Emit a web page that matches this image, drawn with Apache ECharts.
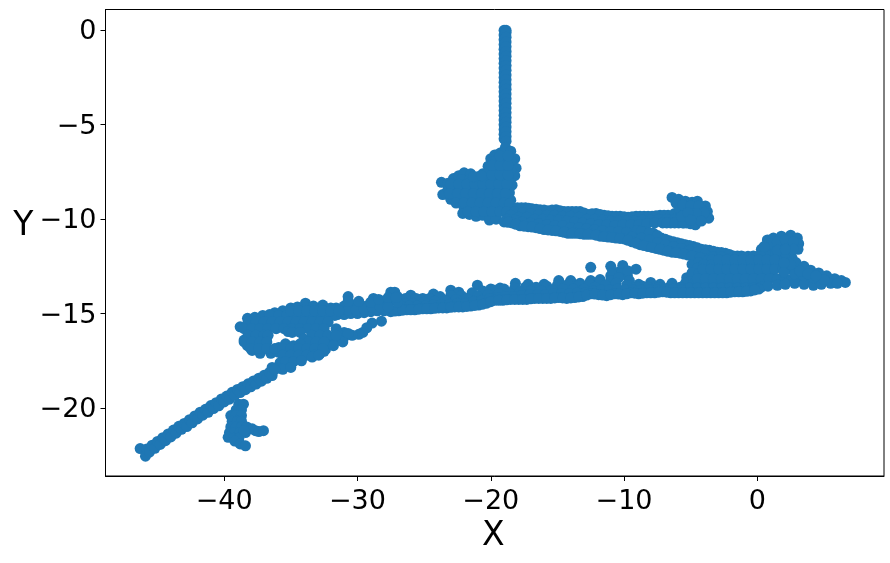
<!DOCTYPE html>
<html>
<head>
<meta charset="utf-8">
<title>XY</title>
<script src="https://cdn.jsdelivr.net/npm/echarts@6/dist/echarts.min.js"></script>
<style>
  html, body { margin: 0; padding: 0; background: #fff; }
  #chart { width: 890px; height: 563px; }
</style>
</head>
<body>
<div id="chart"></div>
<script>
const xTicks = [-40, -30, -20, -10, 0]
const yTicks = [0, -5, -10, -15, -20]

const stemPoints = [
  [-19,0],[-18.85,0],[-19,-.25],[-18.85,-.12],[-19,-.5],[-18.85,-.37],[-19,-.75],[-18.85,-.62],[-19,-1],[-18.85,-.87],
  [-19,-1.25],[-18.85,-1.12],[-19,-1.5],[-18.85,-1.37],[-19,-1.75],[-18.85,-1.62],[-19,-2],[-18.85,-1.87],[-19,-2.25],[-18.85,-2.12],
  [-19,-2.5],[-18.85,-2.37],[-19,-2.75],[-18.85,-2.62],[-19,-3],[-18.85,-2.87],[-19,-3.25],[-18.85,-3.12],[-19,-3.5],[-18.85,-3.37],
  [-19,-3.75],[-18.85,-3.62],[-19,-4],[-18.85,-3.87],[-19,-4.25],[-18.85,-4.12],[-19,-4.5],[-18.85,-4.37],[-19,-4.75],[-18.85,-4.62],
  [-19,-5],[-18.85,-4.87],[-19,-5.25],[-18.85,-5.12],[-19,-5.5],[-18.85,-5.37],[-19,-5.75],[-18.85,-5.62],[-18.85,-5.87]
]

const knotPoints = [
  [-23.7,-8.05],[-23.6,-8.7],[-23.2,-8.1],[-22.8,-7.85],[-22.4,-7.7],[-22,-7.55],[-21.5,-7.6],[-21,-7.75],[-20.6,-7.6],[-20.2,-7.2],
  [-20,-6.8],[-19.7,-6.6],[-19.3,-6.5],[-18.9,-6.2],[-18.5,-6.4],[-18.2,-6.8],[-18.1,-7.3],[-18.2,-7.7],[-18.4,-8.2],[-18.6,-8.6],[-18.5,-9],
  [-23.2,-8.4],[-22.6,-8.4],[-22,-8.4],[-21.4,-8.4],[-20.8,-8.4],[-20.2,-8.4],[-19.6,-8.3],[-19,-8.4],
  [-23,-8.95],[-22.4,-9],[-21.8,-8.9],[-21.2,-8.9],[-20.6,-8.9],[-20,-8.9],[-19.5,-9.1],[-18.9,-8.9],
  [-22.2,-7.9],[-21.6,-7.9],[-21,-7.9],[-20.4,-7.9],[-19.8,-7.9],[-19.2,-7.9],[-18.7,-7.9],
  [-20.2,-7.5],[-19.6,-7.4],[-19,-7.4],[-18.5,-7.4],[-19.6,-6.9],[-19,-6.9],[-18.5,-6.9],
  [-22,-9.4],[-21.4,-9.4],[-20.8,-9.4],[-20.2,-9.4],[-19.6,-9.5],[-19,-9.4],
  [-22.1,-9.7],[-21.6,-9.75],[-21.1,-9.85],[-20.6,-9.8],[-20.1,-10.05],[-19.6,-10],
  [-23,-8.15],[-22.4,-8.15],[-21.8,-8.15],[-21.2,-8.15],[-20.6,-8.15],[-20,-8.15],[-19.4,-8.15],[-18.8,-8.15],
  [-23.1,-8.65],[-22.5,-8.65],[-21.9,-8.65],[-21.3,-8.65],[-20.7,-8.65],[-20.1,-8.65],[-19.5,-8.65],[-18.9,-8.65],
  [-22.6,-9.15],[-22,-9.15],[-21.4,-9.15],[-20.8,-9.15],[-20.2,-9.15],[-19.6,-9.15],[-19,-9.15],[-18.6,-9.2],
  [-21.7,-9.6],[-21.1,-9.6],[-20.5,-9.6],[-19.9,-9.6],[-19.3,-9.6],[-18.8,-9.6],
  [-21.3,-7.75],[-20.7,-7.7],[-19.9,-7.65],[-19.3,-7.65],[-18.7,-7.65],
  [-19.9,-7.15],[-19.3,-7.15],[-18.7,-7.15],[-19.3,-6.65],[-18.7,-6.65]
]

const upperBandTop = [
  [-18,-9.4],[-17.4,-9.4],[-16.9,-9.45],[-16.3,-9.5],[-15.7,-9.55],[-15.1,-9.5],[-14.5,-9.6],[-13.9,-9.6],[-13.3,-9.6],[-12.7,-9.75],
  [-12.1,-9.7],[-11.5,-9.8],[-10.9,-9.85],[-10.3,-9.85],[-9.7,-9.9],[-9.1,-9.85],[-8.5,-9.85],[-7.9,-9.85],[-7.3,-9.8],[-6.7,-9.8],[-6.2,-9.7],
  [-17.7,-9.4],[-17.15,-9.42],[-16.6,-9.47],[-16,-9.52],[-15.4,-9.52],[-14.8,-9.55],[-14.2,-9.6],[-13.6,-9.6],[-13,-9.67],[-12.4,-9.72],
  [-11.8,-9.75],[-11.2,-9.82],[-10.6,-9.85],[-10,-9.87],[-9.4,-9.87],[-8.8,-9.85],[-8.2,-9.85],[-7.6,-9.82],[-7,-9.8]
]
const upperBandFillA = [
  [-18.2,-9.6],[-17.6,-9.65],[-17,-9.7],[-16.4,-9.75],[-15.8,-9.8],[-15.2,-9.8],[-14.6,-9.85],[-14,-9.85],[-13.4,-9.9],[-12.8,-10],
  [-12.2,-10],[-11.6,-10.05],[-11,-10.1],[-10.4,-10.1],[-9.8,-10.1],[-9.2,-10.1],[-8.6,-10.05],[-8,-10.05],[-7.4,-10],[-6.8,-10],[-6.2,-10]
]
const upperBandMiddle = [
  [-18.5,-9.8],[-17.9,-9.9],[-17.3,-9.9],[-16.7,-10],[-16.1,-10],[-15.5,-10.05],[-14.9,-10.05],[-14.3,-10.1],[-13.7,-10.15],[-13.1,-10.2],
  [-12.5,-10.25],[-11.9,-10.3],[-11.3,-10.3],[-10.7,-10.35],[-10.1,-10.3],[-9.5,-10.3],[-8.9,-10.3],[-8.3,-10.25],[-7.7,-10.2],[-7.1,-10.2],
  [-6.5,-10.2],[-5.9,-10.2],[-5.3,-10.2],[-4.7,-10.2],[-6.8,-10.2],[-6.2,-10.2],[-5.6,-10.2],[-5,-10.25]
]
const upperBandFillB = [
  [-18.8,-10],[-18.2,-10.05],[-17.6,-10.15],[-17,-10.2],[-16.4,-10.25],[-15.8,-10.3],[-15.2,-10.35],[-14.6,-10.35],[-14,-10.45],[-13.4,-10.45],
  [-12.8,-10.5],[-12.2,-10.55],[-11.6,-10.6],[-11,-10.65],[-10.4,-10.65],[-9.8,-10.7],[-9.2,-10.8],[-8.6,-10.95]
]
const upperBandBottom = [
  [-19,-10.15],[-18.4,-10.2],[-17.8,-10.35],[-17.2,-10.4],[-16.6,-10.45],[-16,-10.55],[-15.4,-10.6],[-14.8,-10.65],[-14.2,-10.75],[-13.6,-10.75],
  [-13,-10.8],[-12.4,-10.8],[-11.8,-10.9],[-11.2,-10.95],[-10.6,-11],[-10,-11.05],
  [-18.7,-10.17],[-18.1,-10.27],[-17.5,-10.37],[-16.9,-10.42],[-16.3,-10.5],[-15.7,-10.57],[-15.1,-10.62],[-14.5,-10.7],[-13.9,-10.75],[-13.3,-10.77],
  [-12.7,-10.8],[-12.1,-10.85],[-11.5,-10.92],[-10.9,-10.97],[-10.3,-11.02]
]
const forkLobe = [
  [-6.4,-8.85],[-5.9,-8.95],[-5.4,-9.05],[-4.9,-9.1],[-4.5,-9.05],[-3.9,-9.3],[-3.75,-9.6],[-3.65,-9.95],[-4.65,-10.3],[-5.5,-10.2],
  [-6.1,-9.15],[-5.8,-9.5],[-5.4,-9.5],[-4.8,-9.5],[-4.2,-9.5],[-4.3,-9.9],[-5,-9.85],[-5.7,-9.85],
  [-5.6,-9.25],[-5,-9.3],[-4.4,-9.3],[-4,-9.65],[-4.6,-9.7],[-5.2,-9.65],[-4.2,-10.1],[-5,-10.05]
]

const middleBandTop = [
  [-9,-10.6],[-8.4,-10.7],[-7.8,-10.75],[-7.2,-11],[-6.6,-11.15],[-6,-11.25],[-5.4,-11.35],[-4.8,-11.45],[-4.2,-11.6],[-3.6,-11.65],
  [-3,-11.75],[-2.4,-11.8],[-1.8,-11.95],[-1.2,-11.95],
  [-8.7,-10.65],[-8.1,-10.72],[-7.5,-10.87],[-6.9,-11.07],[-6.3,-11.2],[-5.7,-11.3],[-5.1,-11.4],[-4.5,-11.52],[-3.9,-11.62],[-3.3,-11.7],
  [-2.7,-11.77],[-2.1,-11.87],[-1.5,-11.95],[-.7,-11.97]
]
const middleBandFill = [
  [-9.4,-10.95],[-8.7,-11],[-8.1,-11.1],[-7.5,-11.25],[-6.9,-11.35],[-6.3,-11.45],[-5.7,-11.55],[-5.1,-11.65],[-4.5,-11.75],[-3.9,-11.85],
  [-3.3,-12],[-2.7,-12],[-2.1,-12.1],[-1.5,-12.2]
]
const middleBandBottom = [
  [-9.4,-11.2],[-8.8,-11.35],[-8.2,-11.45],[-7.6,-11.55],[-7,-11.65],[-6.4,-11.75],[-5.8,-11.8],[-5.2,-11.9],[-4.6,-12],[-4,-12.1],
  [-9.7,-11.12],[-9.1,-11.27],[-8.5,-11.4],[-7.9,-11.5],[-7.3,-11.6],[-6.7,-11.7],[-6.1,-11.77],[-5.5,-11.85],[-4.9,-11.95],[-4.3,-12.05]
]

const rightBlob = [
  [-1,-12],[-.3,-11.95],[.3,-11.6],[.75,-11.1],[1.2,-11],[1.8,-10.9],[2.5,-10.85],[3,-11],[3.1,-11.3],[3.05,-11.6],[2.6,-12.05],[2.1,-12.1],
  [1.2,-11.5],[1.8,-11.4],[2.4,-11.4],[1,-12],[1.6,-11.9],[2.1,-11.8],
  [.9,-11.3],[1.5,-11.2],[2.1,-11.1],[2.7,-11.2],[2.7,-11.6],[1.5,-11.65],[2.1,-11.6],[.6,-11.8],[.2,-11.9],[.5,-11.45],
  [-4.9,-12.4],[-5.3,-13.1],[-4.4,-12.3],[-4.5,-12.6],[-4.9,-12.85],[-5,-13.3],[-5.4,-13.4],[-3.7,-12.2],[-3.4,-12.15],
  [-4.8,-13.4],[-4.2,-13.4],[-3.6,-13.4],[-3,-13.4],[-2.4,-13.4],[-1.8,-13.4],[-1.2,-13.4],[-.6,-13.4],[0,-13.4],[.6,-13.4],
  [-4.4,-12.9],[-3.8,-12.9],[-3.2,-12.9],[-2.6,-12.9],[-2,-12.9],[-1.4,-12.9],[-.8,-12.9],[-.2,-12.9],[.4,-12.9],[1,-12.9],
  [-4,-12.4],[-3.4,-12.4],[-2.8,-12.4],[-2.2,-12.4],[-1.6,-12.4],[-1,-12.4],[-.4,-12.4],[.2,-12.4],[.8,-12.4],[1.4,-12.4],
  [-2.9,-12.15],[-2.3,-12.15],[-1.7,-12.15],[-1.1,-12.15],[-.5,-12.15],[.1,-12.15],[.7,-12.15],[1.3,-12.15],
  [-4.1,-12.65],[-3.5,-12.65],[-2.9,-12.65],[-2.3,-12.65],[-1.7,-12.65],[-1.1,-12.65],[-.5,-12.65],[.1,-12.65],[.7,-12.65],[1.3,-12.65],[1.9,-12.65],[2.5,-12.65],
  [-4.5,-13.15],[-3.9,-13.15],[-3.3,-13.15],[-2.7,-13.15],[-2.1,-13.15],[-1.5,-13.15],[-.9,-13.15],[-.3,-13.15],[.3,-13.15],[.9,-13.15],[1.5,-13.15],[2.1,-13.15],[2.7,-13.15],[3.3,-13.2],[3.9,-13.25],[4.5,-13.25],
  [-5.1,-13.65],[-4.5,-13.65],[-3.9,-13.65],[-3.3,-13.65],[-2.7,-13.65],[-2.1,-13.65],[-1.5,-13.65],[-.9,-13.65],[-.3,-13.65],[.3,-13.6]
]
const rightTail = [
  [2.9,-12.3],[3.5,-12.5],[4,-12.7],[4.6,-12.85],[5.2,-13],[5.8,-13.15],[6.3,-13.25],[6.6,-13.35],
  [.8,-13.55],[1.5,-13.5],[2.1,-13.45],[2.8,-13.4],[3.5,-13.45],[4.2,-13.5],[4.8,-13.45],[5.5,-13.4],[6,-13.4],
  [2,-12.8],[2.8,-12.9],[3.5,-13],[4.2,-13.1],[5,-13.2],[2.5,-12.4],[2,-12.3],[3.2,-12.75],[3.8,-12.9],[4.4,-13]
]

const lowerBandBumps = [
  [-27.5,-13.87],[-27.2,-13.87],[-26,-14.03],[-25.1,-14.2],[-24.3,-13.97],[-23,-13.76],[-22.4,-13.87],[-21,-13.5],[-20,-13.7],[-19.3,-13.65],
  [-18.15,-13.4],[-17.2,-13.45],[-16,-13.45],[-14.9,-13.25],[-14,-13.25],[-13.3,-13.4],[-12.5,-13.25],[-11.8,-13.2],[-11,-13],[-10.4,-12.8],
  [-9.75,-13],[-8.9,-13.45],[-8,-13.35],[-7.3,-13.45],[-6.4,-13.4],
  [-12.5,-12.55],[-11,-12.5],[-10.1,-12.45],[-9.1,-12.65],[-10.9,-12.9],[-10.2,-12.9],[-9.7,-12.75]
]
const lowerBandUpperFill = [
  [-27,-14.1],[-26.4,-14.2],[-25.6,-14.2],[-24.6,-14.2],[-23.8,-14.1],[-23,-14.05],[-22.2,-14.05],[-21.4,-13.9],[-20.6,-13.8],[-19.8,-13.75],
  [-19,-13.7],[-18.2,-13.65],[-17.4,-13.6],[-16.6,-13.6],[-15.8,-13.55],[-15,-13.5],[-14.2,-13.45],[-13.4,-13.5],[-12.6,-13.4],[-11.8,-13.35],
  [-11,-13.25],[-10.4,-13.1],[-9.6,-13.25],[-8.6,-13.55]
]
const lowerBandMiddle = [
  [-26.4,-14.45],[-25.8,-14.45],[-25,-14.4],[-24.2,-14.35],[-23.4,-14.3],[-22.6,-14.25],[-21.8,-14.2],[-21,-14.1],[-20.2,-14],[-19.4,-13.95],
  [-18.6,-13.9],[-17.8,-13.85],[-17,-13.8],[-16.2,-13.8],[-15.4,-13.75],[-14.6,-13.7],[-13.8,-13.7],[-13,-13.7],[-12.2,-13.6],[-11.4,-13.5],
  [-10.6,-13.4],[-9.8,-13.5],[-9,-13.6],[-8.2,-13.6],[-7.4,-13.6],[-6.6,-13.6],[-5.8,-13.6]
]
const lowerBandLowerFill = [
  [-26.7,-14.6],[-26.1,-14.6],[-25.5,-14.6],[-24.9,-14.6],[-24.3,-14.55],[-23.7,-14.5],[-23.1,-14.5],[-22.5,-14.45],[-21.9,-14.45],[-21.3,-14.35],
  [-20.7,-14.3],[-20.1,-14.2],[-19.5,-14.15],[-18.9,-14.1],[-18.3,-14.1],[-17.7,-14.05],[-17.1,-14],[-16.5,-14],[-15.9,-14],[-15.3,-13.95],
  [-14.7,-13.95],[-14.1,-13.95],[-13.5,-13.9],[-12.9,-13.9],[-12.3,-13.8],[-11.7,-13.75],[-11.1,-13.75],[-10.5,-13.7],[-9.9,-13.75],[-9.3,-13.75],
  [-8.7,-13.75],[-8.1,-13.75],[-7.5,-13.75],[-6.9,-13.7],[-6.3,-13.7],[-5.7,-13.75]
]
const lowerBandBottom = [
  [-27.5,-14.9],[-26.9,-14.85],[-26.3,-14.8],[-25.7,-14.8],[-25.1,-14.75],[-24.5,-14.75],[-23.9,-14.7],[-23.3,-14.7],[-22.7,-14.65],[-22.1,-14.65],
  [-21.5,-14.6],[-20.9,-14.55],[-20.3,-14.45],[-19.7,-14.3],[-19.1,-14.3],[-18.5,-14.25],[-17.9,-14.25],[-17.3,-14.25],[-16.7,-14.2],[-16.1,-14.2],
  [-15.5,-14.2],[-14.9,-14.15],[-14.3,-14.2],[-13.7,-14.15],[-13.1,-14.1],[-12.5,-13.95],[-11.9,-14],[-11.3,-14.05],[-10.7,-13.95],[-10.1,-14],
  [-9.5,-13.9],[-8.9,-13.95],[-8.3,-13.9],[-7.7,-13.9],[-7.1,-13.85],[-6.5,-13.9],[-5.9,-13.9],[-5.3,-13.9],[-4.7,-13.9],[-4.1,-13.9],
  [-3.5,-13.9],[-2.9,-13.9],[-2.3,-13.9],[-1.7,-13.85],[-1.1,-13.85],[-.5,-13.8],[.1,-13.7],
  [-27.2,-14.87],[-26.6,-14.82],[-26,-14.8],[-25.4,-14.77],[-24.8,-14.75],[-24.2,-14.72],[-23.6,-14.7],[-23,-14.67],[-22.4,-14.65],[-21.8,-14.62],
  [-21.2,-14.57],[-20.6,-14.5],[-20,-14.37],[-19.4,-14.3],[-18.8,-14.27],[-18.2,-14.25],[-17.6,-14.25],[-17,-14.22],[-16.4,-14.2],[-15.8,-14.2],
  [-15.2,-14.17],[-14.6,-14.17],[-14,-14.17],[-13.4,-14.12],[-12.8,-14.02],[-12.2,-13.97],[-11.6,-14.02],[-11,-14],[-10.4,-13.97],[-9.8,-13.95],
  [-9.2,-13.92],[-8.6,-13.92],[-8,-13.9],[-7.4,-13.87],[-6.8,-13.87],[-6.2,-13.9],[-5.6,-13.9],[-5,-13.9],[-4.4,-13.9],[-3.8,-13.9],
  [-3.2,-13.9],[-2.6,-13.9],[-2,-13.87],[-1.4,-13.85],[-.8,-13.82],[-.2,-13.75]
]

const leftBandPoints = [
  [-38.25,-15.25],[-38.8,-15.7],[-37.1,-15.1],[-36.2,-14.95],[-35,-14.7],[-33.9,-14.45],[-32.6,-14.55],[-31.6,-14.7],[-30.7,-14.1],[-29.8,-14.55],[-28.8,-14.2],
  [-37.7,-15.2],[-36.6,-15.05],[-35.6,-14.85],[-34.5,-14.65],[-33.3,-14.6],[-32,-14.7],
  [-31.5,-15.05],[-31,-15.05],[-30.5,-15],[-30,-15],[-29.5,-14.95],[-29,-14.9],[-28.5,-14.85],[-28,-14.85],
  [-31,-14.6],[-30.3,-14.55],[-29.3,-14.6],[-28.2,-14.5],[-27.6,-14.4],[-27,-14.4],
  [-31.3,-14.85],[-30.7,-14.8],[-30.1,-14.8],[-29.5,-14.75],[-28.9,-14.65],[-28.3,-14.65],[-27.7,-14.65],
  [-30.7,-14.35],[-29.9,-14.35],[-29,-14.4],[-28.4,-14.25],[-27.7,-14.15],[-27.1,-14.15],
  [-28.2,-15.4],[-28.9,-15.5],[-29.6,-16],[-29.3,-15.75],[-29.9,-16.1],[-30.4,-16.15],[-31,-16.25],[-31.5,-16.4],[-31.9,-16.6],[-32.4,-16.9],[-32.8,-17.1],
  [-31,-16],[-31.6,-15.8],[-31.3,-16.15],[-30.7,-16.05],[-31.1,-16.5],[-32.5,-17]
]
const leftBlob = [
  [-38.5,-16.4],[-38.25,-16.7],[-37.9,-16.95],[-37.3,-17.1],[-36.5,-17.1],[-35.9,-17.05],
  [-35.9,-15.1],[-35.3,-15.1],[-34.7,-15.1],[-34.1,-15.1],[-33.5,-15.1],[-32.9,-15.1],[-32.3,-15.1],[-31.7,-15.1],
  [-35,-14.85],[-34.4,-14.85],[-33.8,-14.85],[-33.2,-14.85],[-32.6,-14.85],[-32,-14.85],[-31.4,-14.85],
  [-38.2,-15.45],[-37.6,-15.45],[-37,-15.45],[-36.4,-15.45],[-35.8,-15.45],[-35.2,-15.45],[-34.6,-15.45],[-34,-15.45],[-33.4,-15.45],[-32.8,-15.45],[-32.2,-15.45],
  [-38.5,-15.8],[-37.9,-15.8],[-37.3,-15.8],[-36.7,-15.8],[-36.1,-15.8],[-35.5,-15.8],[-34.9,-15.8],[-34.3,-15.8],[-33.7,-15.8],[-33.1,-15.8],[-32.5,-15.8],
  [-38.2,-16.15],[-37.6,-16.15],[-37,-16.15],[-36.7,-16.15],[-35.2,-15.95],[-34.9,-16],[-34.3,-16],[-33.4,-16.15],[-32.8,-16.15],[-32.2,-16.15],[-31.6,-16.15],
  [-38.5,-16.5],[-37.9,-16.5],[-37.3,-16.5],[-36.8,-16.5],[-34,-16.35],[-33.7,-16.5],[-33.1,-16.5],[-32.5,-16.5],
  [-35.4,-16.6],[-34.8,-16.7],[-34.3,-16.6],[-35.9,-16.8],
  [-38,-16.85],[-37.4,-16.85],[-36.8,-16.85],[-36.2,-16.85],[-35.6,-16.85],[-35,-16.85],[-34.4,-16.85],[-33.8,-16.85],[-33.2,-16.85],[-32.6,-16.85],
  [-35.6,-17.2],[-35,-17.2],[-34.4,-17.2],[-33.8,-17.2],[-33.2,-17.2],[-33.4,-17.3],[-32.9,-17.2],
  [-35.8,-17.6],[-35.4,-17.55],[-34.8,-17.55],[-34.2,-17.5],
  [-36.2,-17.9],[-36.4,-17.85],[-35.6,-17.95],[-35,-17.85],
  [-31.8,-16.7],[-36.5,-18.2]
]
const diagonalPoints = [
  [-46.3,-22.15],[-45.9,-22.55],
  [-45.8,-22.17],[-45.6,-22.33],[-45.4,-21.97],[-45.2,-22.13],[-45,-21.77],[-44.8,-21.93],[-44.6,-21.57],[-44.4,-21.73],[-44.2,-21.37],[-44,-21.53],
  [-43.8,-21.17],[-43.6,-21.33],[-43.4,-20.97],[-43.2,-21.13],[-43,-20.82],[-42.8,-20.98],[-42.6,-20.62],[-42.4,-20.78],[-42.2,-20.42],[-42,-20.58],
  [-41.8,-20.22],[-41.6,-20.38],[-41.4,-20.07],[-41.2,-20.23],[-41,-19.87],[-40.8,-20.03],[-40.6,-19.72],[-40.4,-19.88],[-40.2,-19.52],[-40,-19.68],
  [-39.8,-19.37],[-39.6,-19.53],[-39.4,-19.17],[-39.2,-19.33],[-39,-19.02],[-38.8,-19.18],[-38.6,-18.87],[-38.4,-19.03],[-38.2,-18.72],[-38,-18.88],
  [-37.8,-18.57],[-37.6,-18.73],[-37.4,-18.42],[-37.2,-18.58],[-37,-18.27],[-36.8,-18.43],[-36.6,-18.12],[-36.4,-18.28],[-36.2,-17.97]
]
const branchPoints = [
  [-38.9,-19.8],[-38.55,-19.8],[-39.1,-20.1],[-38.7,-20.1],[-39.5,-20.4],[-39.1,-20.4],[-38.7,-20.4],[-39.4,-20.7],[-39,-20.7],[-38.7,-20.7],
  [-39.5,-21],[-39.1,-21],[-38.7,-21],[-38.3,-21],[-39.6,-21.3],[-39.2,-21.3],[-38.8,-21.3],[-38.4,-21.3],[-39.7,-21.55],[-39.3,-21.6],
  [-38.9,-21.6],[-39.2,-21.75],[-38.8,-21.9],[-38.4,-22],[-37.9,-21.1],[-37.65,-21.2],[-37.4,-21.25],[-37.05,-21.2],[-38.5,-21.2]
]

const points = [].concat(
  stemPoints, knotPoints, upperBandTop, upperBandFillA, upperBandMiddle, upperBandFillB, upperBandBottom, forkLobe,
  middleBandTop, middleBandFill, middleBandBottom, rightBlob, rightTail,
  lowerBandBumps, lowerBandUpperFill, lowerBandMiddle, lowerBandLowerFill, lowerBandBottom,
  leftBandPoints, leftBlob, diagonalPoints, branchPoints
)

const labelFont = 'DejaVu Sans'
const minusLabel = v => String(v).replace('-', '\u2212')

const chart = echarts.init(document.getElementById('chart'))
chart.setOption({
  animation: false,
  grid: {
    show: true,
    left: 105.5,
    right: 6,
    top: 9.5,
    bottom: 87,
    borderColor: '#000',
    borderWidth: 1,
    backgroundColor: '#fff'
  },
  xAxis: {
    type: 'value',
    min: -48.9,
    max: 9.5,
    name: '{n|X}',
    nameLocation: 'middle',
    nameGap: 44,
    nameTextStyle: {
      rich: { n: { fontFamily: labelFont, fontSize: 33, color: '#000', padding: [0, 3, 0, 0] } }
    },
    axisLine: { onZero: false, lineStyle: { color: '#000', width: 1 } },
    axisTick: { length: 5, customValues: xTicks, lineStyle: { color: '#000', width: 1 } },
    axisLabel: { customValues: xTicks, formatter: minusLabel, fontFamily: labelFont, fontSize: 27, color: '#000', margin: 12 },
    splitLine: { show: false }
  },
  yAxis: {
    type: 'value',
    min: -23.6,
    max: 1.1,
    name: '{n|Y}',
    nameLocation: 'middle',
    nameRotate: 0,
    nameGap: 72,
    nameTextStyle: {
      verticalAlign: 'bottom',
      rich: { n: { fontFamily: labelFont, fontSize: 33, color: '#000' } }
    },
    axisLine: { onZero: false, lineStyle: { color: '#000', width: 1 } },
    axisTick: { length: 5, customValues: yTicks, lineStyle: { color: '#000', width: 1 } },
    axisLabel: {
      customValues: yTicks,
      formatter: v => '{t|' + minusLabel(v) + '}',
      margin: 9,
      rich: { t: { fontFamily: labelFont, fontSize: 27, color: '#000', padding: [4, 0, 0, 0] } }
    },
    splitLine: { show: false }
  },
  series: [{
    type: 'scatter',
    data: points,
    symbol: 'circle',
    symbolSize: 11,
    itemStyle: { color: '#1f77b4', opacity: 1 },
    emphasis: { disabled: true }
  }]
})
</script>
</body>
</html>
